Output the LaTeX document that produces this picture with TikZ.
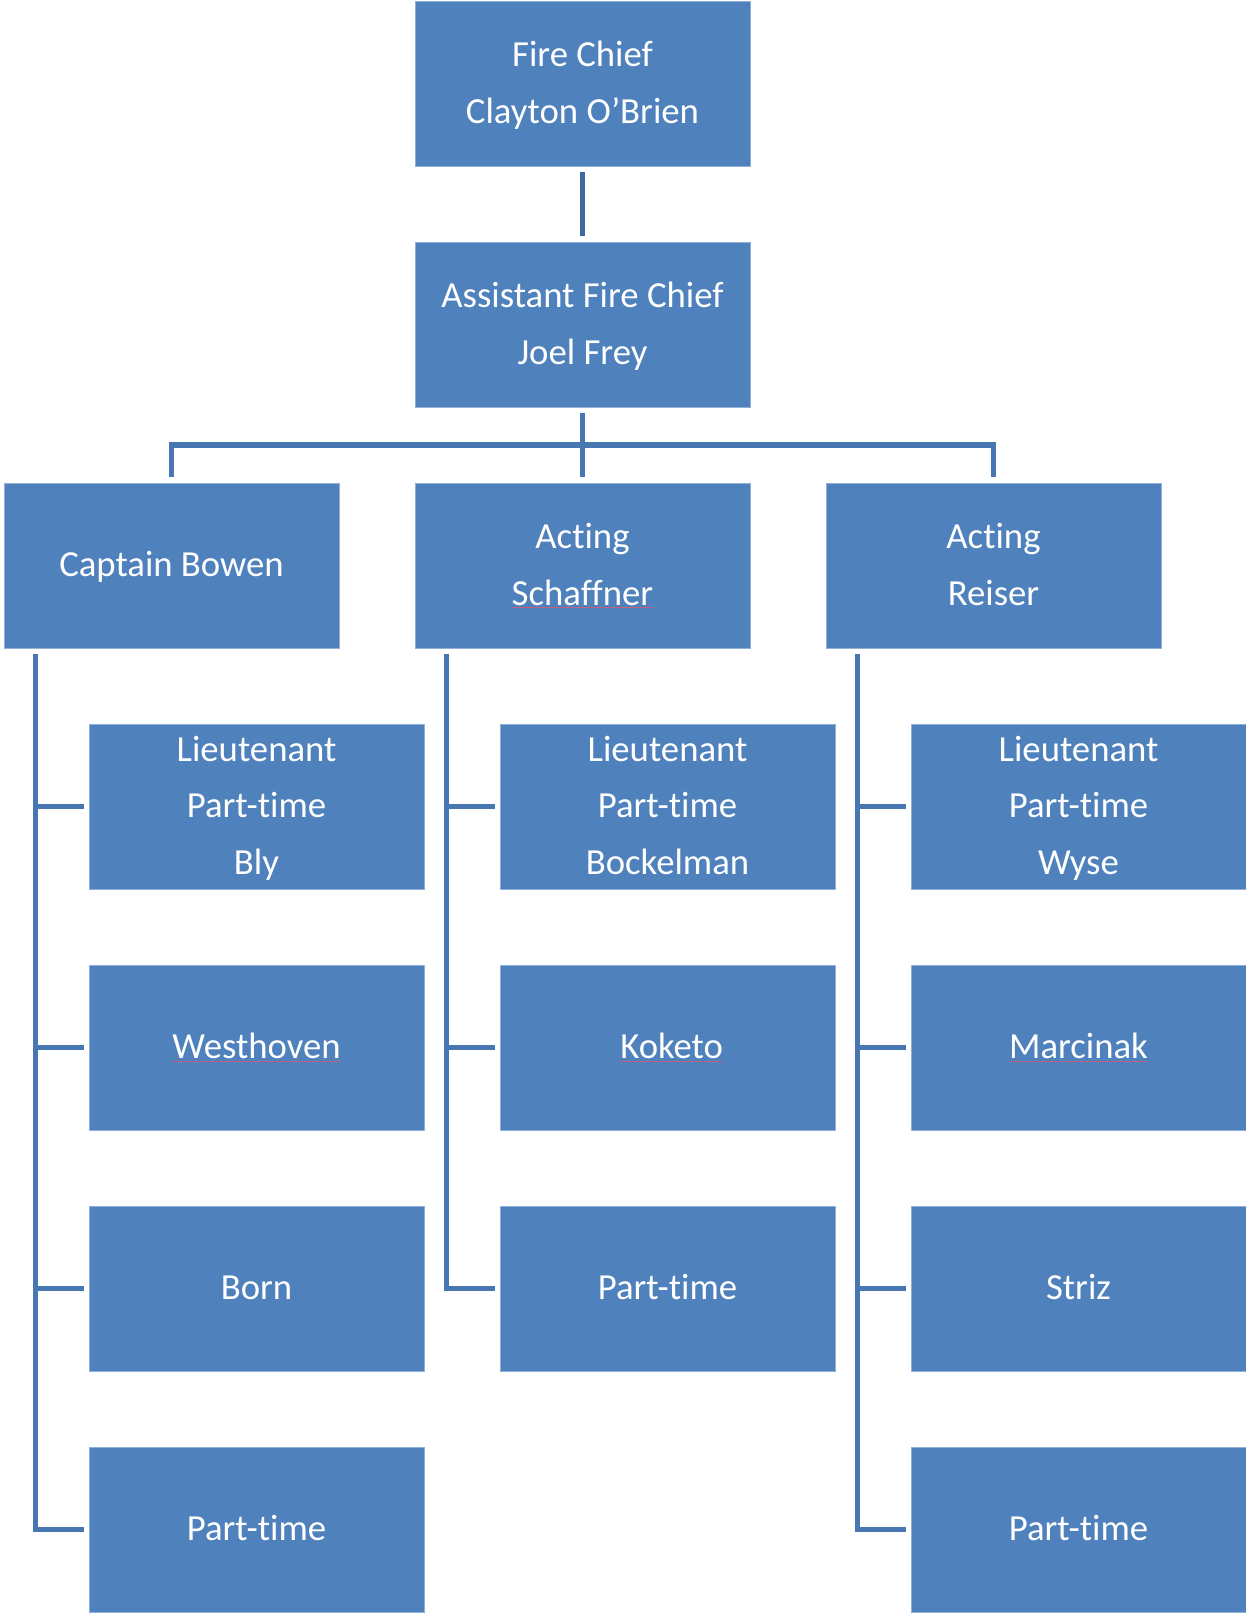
\documentclass[tikz,border=0pt]{standalone}
\usepackage{fontspec}
\setmainfont{Carlito}[Ligatures = {CommonOff, RareOff}]
\usetikzlibrary{positioning}
\definecolor{boxblue}{HTML}{4F81BD}
\definecolor{boxedge}{HTML}{8FB0D8}
\definecolor{linkblue}{HTML}{4876B1}
\definecolor{chiefblue}{HTML}{3D6A9F}
\definecolor{spellred}{HTML}{C0607E}
\newsavebox{\spellbox}
\newcommand{\misspelt}[1]{\sbox{\spellbox}{#1}\rlap{\textcolor{spellred}{\rule[-1.8pt]{\wd\spellbox}{0.7pt}}}\usebox{\spellbox}}

\begin{document}
\begin{tikzpicture}[
		post/.style = {draw = boxedge, line width = 0.4pt, fill = boxblue, text = white, minimum width = 6.7cm, minimum height = 3.3cm, inner xsep = 0pt, inner ysep = -0.1cm, outer sep = 0pt, align = center, font = \fontsize{20.9}{32.2}\selectfont, execute at begin node = \strut, execute at end node = \strut},
		link/.style = {draw = linkblue, line width = 0.11cm},
	]
			\useasboundingbox (0,0) rectangle (24.92,-32.32);
			\node[post] (chief) at (11.65,-1.67) {Fire Chief\strut\\Clayton O’Brien};
			\node[post, below = 1.52cm of chief] (assistant) {Assistant Fire Chief\strut\\Joel Frey};
			\node[post, below = 1.52cm of assistant] (schaffner) {Acting\strut\\{\misspelt{Schaffner}}};
			\node[post, left = 1.52cm of schaffner] (bowen) {Captain Bowen};
			\node[post, right = 1.52cm of schaffner] (reiser) {Acting\strut\\Reiser};

			\node[post, below = 1.52cm of bowen, xshift = 1.7cm] (bly) {Lieutenant\strut\\Part-time\\Bly};
			\node[post, below = 1.52cm of bly] (westhoven) {\misspelt{Westhoven}};
			\node[post, below = 1.52cm of westhoven] (born) {Born};
			\node[post, below = 1.52cm of born] (bowenpt) {Part-time};

			\node[post, below = 1.52cm of schaffner, xshift = 1.7cm] (bockelman) {Lieutenant\strut\\Part-time\\Bockelman};
			\node[post, below = 1.52cm of bockelman] (koketo) {~\misspelt{Koketo}};
			\node[post, below = 1.52cm of koketo] (schaffnerpt) {Part-time};

			\node[post, below = 1.52cm of reiser, xshift = 1.7cm] (wyse) {Lieutenant\strut\\Part-time\\Wyse};
			\node[post, below = 1.52cm of wyse] (marcinak) {\misspelt{Marcinak}};
			\node[post, below = 1.52cm of marcinak] (striz) {Striz};
			\node[post, below = 1.52cm of striz] (reiserpt) {Part-time};

			\draw[link, draw = chiefblue, shorten <= 0.12cm, shorten >= 0.12cm] (chief) -- (assistant);
			\path (assistant.south) -- coordinate[midway] (bus) (schaffner.north);
			\draw[link] ([yshift = -0.12cm]assistant.south) -- ([yshift = 0.12cm]schaffner.north);
			\draw[link] ([yshift = 0.12cm]bowen.north) |- (bus) -| ([yshift = 0.12cm]reiser.north);

			\coordinate (bowenspine) at ([xshift = 0.63cm, yshift = -0.12cm]bowen.south west);
			\draw[link] (bowenspine) |- ([xshift = -0.1cm]bowenpt.west);
			\foreach \sub in {bly, westhoven, born}
				\draw[link] (bowenspine |- \sub.west) -- ([xshift = -0.1cm]\sub.west);

			\coordinate (schaffnerspine) at ([xshift = 0.63cm, yshift = -0.12cm]schaffner.south west);
			\draw[link] (schaffnerspine) |- ([xshift = -0.1cm]schaffnerpt.west);
			\foreach \sub in {bockelman, koketo}
				\draw[link] (schaffnerspine |- \sub.west) -- ([xshift = -0.1cm]\sub.west);

			\coordinate (reiserspine) at ([xshift = 0.63cm, yshift = -0.12cm]reiser.south west);
			\draw[link] (reiserspine) |- ([xshift = -0.1cm]reiserpt.west);
			\foreach \sub in {wyse, marcinak, striz}
				\draw[link] (reiserspine |- \sub.west) -- ([xshift = -0.1cm]\sub.west);
		\end{tikzpicture}
\end{document}
